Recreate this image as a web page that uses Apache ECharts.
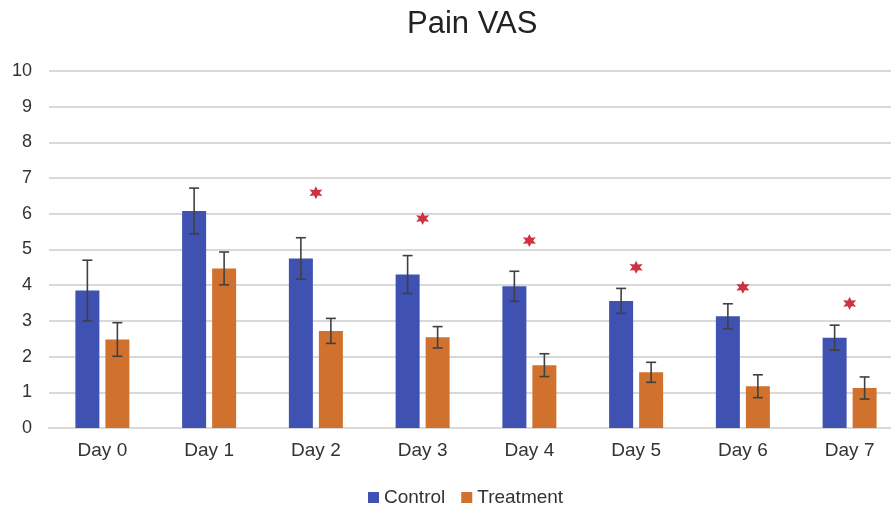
<!DOCTYPE html>
<html>
<head>
<meta charset="utf-8">
<title>Pain VAS</title>
<script src="https://cdn.jsdelivr.net/npm/echarts@6/dist/echarts.min.js"></script>
<style>
    html, body { margin: 0; padding: 0; background: #fff; overflow: hidden; }
    #contain { width: 904px; height: 506px; }
</style>
</head>
<body>
<div id="contain"></div>
<script>
/*数据*/
var days = ["Day 0", "Day 1", "Day 2", "Day 3", "Day 4", "Day 5", "Day 6", "Day 7"];
var yTicks = [0, 1, 2, 3, 4, 5, 6, 7, 8, 9, 10];
var controlMean = [3.85, 6.08, 4.75, 4.3, 3.97, 3.56, 3.13, 2.53];
var controlErr = [0.85, 0.64, 0.58, 0.53, 0.42, 0.35, 0.35, 0.35];
var treatMean = [2.48, 4.47, 2.72, 2.54, 1.76, 1.56, 1.17, 1.12];
var treatErr = [0.47, 0.46, 0.35, 0.3, 0.32, 0.28, 0.32, 0.31];
var starY = [null, null, 6.59, 5.87, 5.25, 4.5, 3.94, 3.49];

var blue = "#3f51b1";
var orange = "#d0722e";

/**
 * 误差线数据 [index, mean, err]
 */
function errData(mean, err) {
    var out = [];
    for (var i = 0; i < mean.length; i++) {
        out.push([i, mean[i], err[i]]);
    }
    return out;
}

function errRender(offset) {
    return function (params, api) {
        var idx = api.value(0);
        var hi = api.coord([idx, api.value(1) + api.value(2)]);
        var lo = api.coord([idx, api.value(1) - api.value(2)]);
        var x = hi[0] + offset;
        var cap = 5;
        var style = { stroke: "#404040", lineWidth: 1.6 };
        return {
            type: "group",
            children: [
                { type: "line", shape: { x1: x, y1: hi[1], x2: x, y2: lo[1] }, style: style },
                { type: "line", shape: { x1: x - cap, y1: hi[1], x2: x + cap, y2: hi[1] }, style: style },
                { type: "line", shape: { x1: x - cap, y1: lo[1], x2: x + cap, y2: lo[1] }, style: style }
            ]
        };
    };
}

var starPath = "path://M10 0 L12.5 5.67 L18.66 5 L15 10 L18.66 15 L12.5 14.33 L10 20 L7.5 14.33 L1.34 15 L5 10 L1.34 5 L7.5 5.67 Z";

var myChart = echarts.init(document.getElementById("contain"));
myChart.setOption({
    animation: false,
    textStyle: { fontFamily: "Liberation Sans, Arial, sans-serif" },
    title: {
        text: "Pain VAS",
        left: 402,
        top: 4,
        textStyle: { fontSize: 31, fontWeight: "normal", color: "#222" }
    },
    legend: {
        data: ["Control", "Treatment"],
        left: 363,
        top: 483,
        itemWidth: 11,
        itemHeight: 11,
        itemGap: 16,
        icon: "rect",
        textStyle: { fontSize: 19, color: "#333" }
    },
    grid: {
        left: 49,
        top: 71,
        width: 854,
        height: 357
    },
    xAxis: {
        type: "category",
        data: days,
        axisTick: { show: false },
        axisLine: { lineStyle: { color: "#d9d9d9", width: 2 } },
        axisLabel: { fontSize: 19, color: "#333", margin: 13 }
    },
    yAxis: {
        type: "value",
        min: yTicks[0],
        max: yTicks[yTicks.length - 1],
        interval: 1,
        axisLine: { show: false },
        axisTick: { show: false },
        axisLabel: { fontSize: 18, color: "#333", margin: 17 },
        splitLine: { lineStyle: { color: "#d9d9d9", width: 2 } }
    },
    series: [
        {
            name: "Control",
            type: "bar",
            data: controlMean,
            barWidth: 24,
            barGap: "25%",
            itemStyle: { color: blue }
        },
        {
            name: "Treatment",
            type: "bar",
            data: treatMean,
            barWidth: 24,
            itemStyle: { color: orange }
        },
        {
            name: "ctrlErr",
            type: "custom",
            data: errData(controlMean, controlErr),
            renderItem: errRender(-15),
            z: 10,
            silent: true
        },
        {
            name: "treatErr",
            type: "custom",
            data: errData(treatMean, treatErr),
            renderItem: errRender(15),
            z: 10,
            silent: true
        },
        {
            name: "sig",
            type: "scatter",
            data: starY,
            symbol: starPath,
            symbolSize: 13,
            itemStyle: { color: "#c00010" },
            z: 10,
            silent: true
        }
    ]
});
</script>
</body>
</html>
